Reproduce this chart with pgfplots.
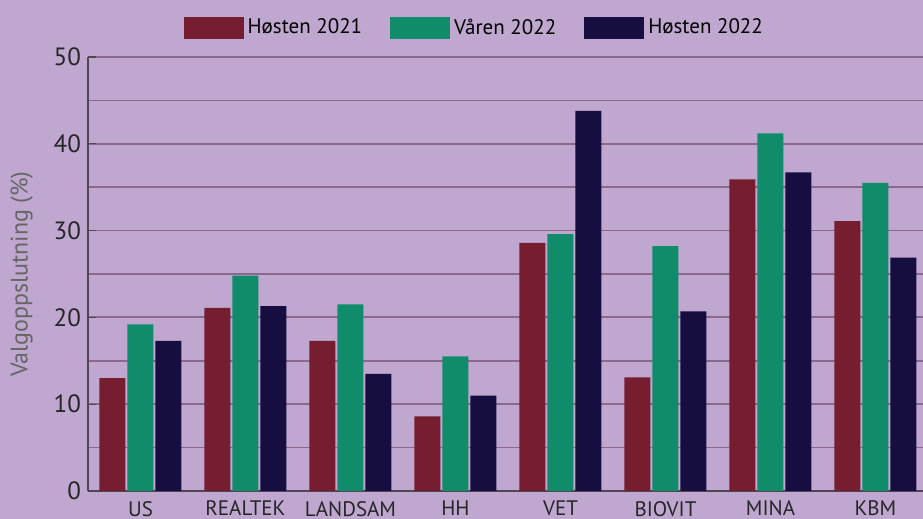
\documentclass[border=0pt]{standalone}
\usepackage{pgfplots}
\pgfplotsset{compat=1.18}
\usepackage{fontspec}
\setmainfont{PT Sans}
\definecolor{bgc}{RGB}{191,167,208}
\definecolor{h21}{RGB}{118,30,48}
\definecolor{v22}{RGB}{16,140,106}
\definecolor{h22}{RGB}{22,14,64}
\definecolor{gridc}{RGB}{140,105,140}
\definecolor{axc}{RGB}{80,70,85}
\begin{document}
\begin{tikzpicture}
\useasboundingbox (-44pt,-14pt) rectangle (417.5pt,245.5pt);
\fill[bgc] (-44pt,-14pt) rectangle (417.5pt,245.5pt);
\clip (-44pt,-14pt) rectangle (417.5pt,245.5pt);
\begin{axis}[
  at={(0,0)}, anchor=south west,
  scale only axis, width=420pt, height=217pt,
  ybar=1pt, bar width=13pt,
  xmin=-0.5, xmax=7.5, ymin=0, ymax=50,
  axis x line*=bottom, axis y line*=left,
  axis line style={axc, line width=0.6pt},
  xtick={0,...,7},
  xticklabels={US,REALTEK,LANDSAM,HH,VET,BIOVIT,MINA,KBM},
  major x tick style={draw=none},
  extra x ticks={0.5,1.5,...,6.5},
  extra x tick labels={},
  extra x tick style={major tick length=3pt, tick style={axc, line width=0.5pt}, tick align=inside},
  ytick={0,10,...,50},
  minor y tick num=1,
  ymajorgrids, yminorgrids,
  major grid style={gridc, line width=0.9pt},
  minor grid style={gridc, line width=0.9pt},
  y tick style={axc, line width=0.6pt},
  major tick length=4pt, minor tick length=0pt,
  tick align=inside,
  ticklabel style={font=\fontsize{12.5}{14}\selectfont, text=black!85},
  xticklabel style={font=\fontsize{10.5}{12}\selectfont, yshift=-1.5pt},
  /pgf/number format/assume math mode=true,
  ylabel={Valgoppslutning (\%)},
  ylabel style={font=\fontsize{12}{14}\selectfont, text=black!60, anchor=center, at={(axis description cs:-0.079,0.5)}},
  legend style={at={(0.461,1.067)}, anchor=center, draw=none, fill=none,
    font=\fontsize{10.5}{12}\selectfont, legend columns=3,
    /tikz/every even column/.append style={column sep=12pt}},
  legend image code/.code={\fill[#1] (-3pt,-5.5pt) rectangle (27pt,5.5pt);},
]
\addplot[fill=h21, draw=none] coordinates {(0,13.0) (1,21.1) (2,17.3) (3,8.6) (4,28.6) (5,13.1) (6,35.9) (7,31.1)};
\addplot[fill=v22, draw=none] coordinates {(0,19.2) (1,24.8) (2,21.5) (3,15.5) (4,29.6) (5,28.2) (6,41.2) (7,35.5)};
\addplot[fill=h22, draw=none] coordinates {(0,17.3) (1,21.3) (2,13.5) (3,11.0) (4,43.8) (5,20.7) (6,36.7) (7,26.9)};
\legend{Høsten 2021, Våren 2022, Høsten 2022}
\end{axis}
\end{tikzpicture}
\end{document}
